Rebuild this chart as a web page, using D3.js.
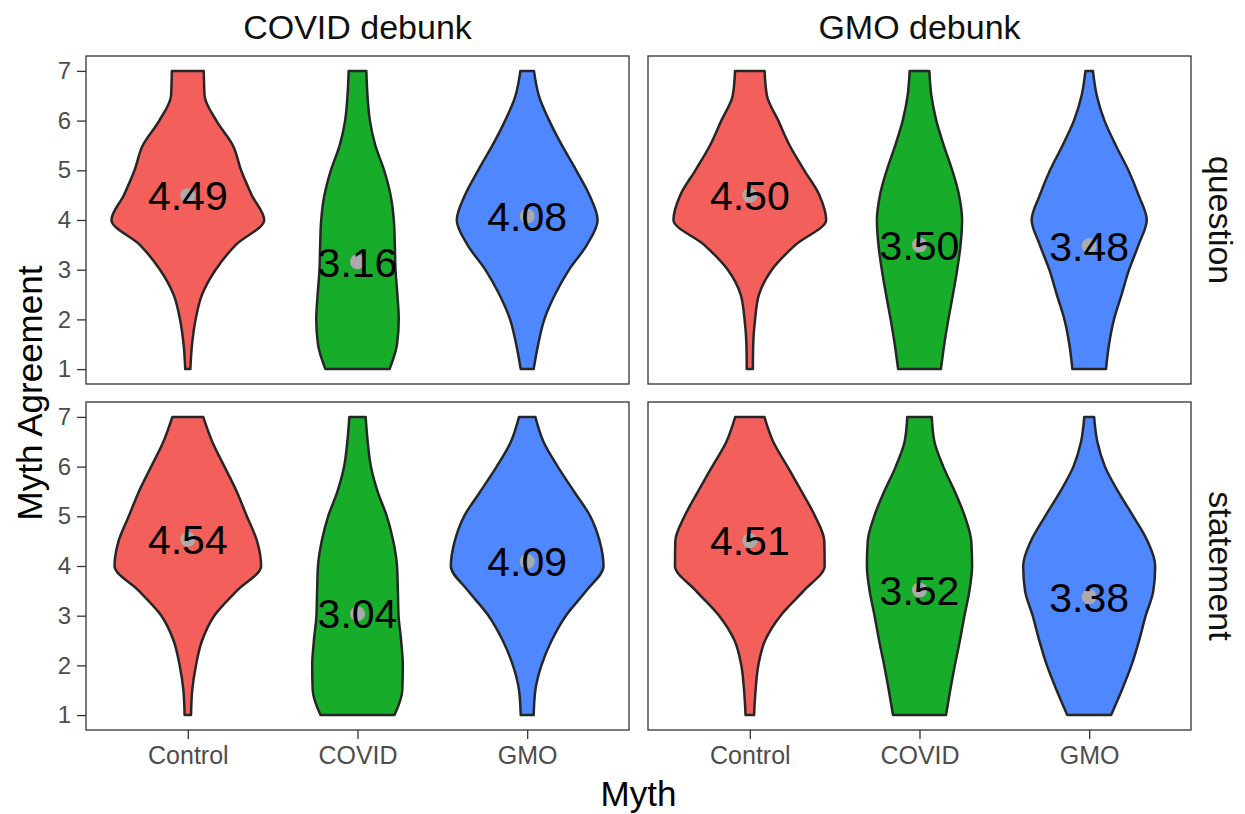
<!DOCTYPE html>
<html>
<head>
<meta charset="utf-8">
<script src="https://cdn.jsdelivr.net/npm/d3@7"></script>
<style>
  body { margin: 0; background: #fff; }
  text { font-family: "Liberation Sans", Arial, Helvetica, sans-serif; }
</style>
</head>
<body>
<svg id="chart" width="1245" height="814"></svg>
<script>
const myths = ['Control', 'COVID', 'GMO'];
const debunks = ['COVID debunk', 'GMO debunk'];
const formats = ['question', 'statement'];
const colors = ['#F35F5B', '#17AD2B', '#4F87FE'];

// y levels the violin half-widths were read at
const yLevels = [1, 1.5, 2, 2.5, 3, 3.5, 4, 4.5, 5, 5.5, 6, 6.5, 7];

// mean agreement per myth (Control, COVID, GMO)
const meanCovidQuestion = [4.49, 3.16, 4.08];
const meanGmoQuestion = [4.50, 3.50, 3.48];
const meanCovidStatement = [4.54, 3.04, 4.09];
const meanGmoStatement = [4.51, 3.52, 3.38];

// violin half-widths (in category units) at yLevels
const widthCovidQuestion = [
  [0.015, 0.025, 0.046, 0.084, 0.164, 0.283, 0.450, 0.377, 0.314, 0.266, 0.168, 0.099, 0.094],
  [0.189, 0.233, 0.243, 0.235, 0.224, 0.220, 0.214, 0.195, 0.157, 0.105, 0.073, 0.059, 0.052],
  [0.038, 0.065, 0.101, 0.164, 0.247, 0.352, 0.415, 0.367, 0.289, 0.205, 0.130, 0.069, 0.040]
];
const widthGmoQuestion = [
  [0.018, 0.020, 0.031, 0.054, 0.130, 0.269, 0.450, 0.410, 0.321, 0.235, 0.168, 0.101, 0.087],
  [0.126, 0.146, 0.170, 0.197, 0.222, 0.242, 0.251, 0.233, 0.193, 0.143, 0.099, 0.070, 0.058],
  [0.099, 0.117, 0.146, 0.191, 0.235, 0.291, 0.339, 0.291, 0.231, 0.157, 0.090, 0.045, 0.022]
];
const widthCovidStatement = [
  [0.019, 0.026, 0.048, 0.084, 0.156, 0.288, 0.432, 0.408, 0.348, 0.288, 0.216, 0.144, 0.091],
  [0.218, 0.264, 0.267, 0.257, 0.242, 0.238, 0.233, 0.211, 0.173, 0.118, 0.079, 0.060, 0.048],
  [0.038, 0.048, 0.084, 0.144, 0.228, 0.348, 0.450, 0.427, 0.372, 0.276, 0.180, 0.096, 0.048]
];
const widthGmoStatement = [
  [0.025, 0.034, 0.050, 0.090, 0.181, 0.317, 0.441, 0.439, 0.385, 0.305, 0.222, 0.138, 0.086],
  [0.156, 0.181, 0.208, 0.238, 0.265, 0.294, 0.310, 0.305, 0.267, 0.208, 0.140, 0.088, 0.072],
  [0.129, 0.192, 0.249, 0.294, 0.333, 0.378, 0.389, 0.344, 0.260, 0.170, 0.093, 0.048, 0.029]
];
const yTicks = [1, 2, 3, 4, 5, 6, 7];

const panels = [
  { row: 0, col: 0, means: meanCovidQuestion, widths: widthCovidQuestion },
  { row: 0, col: 1, means: meanGmoQuestion, widths: widthGmoQuestion },
  { row: 1, col: 0, means: meanCovidStatement, widths: widthCovidStatement },
  { row: 1, col: 1, means: meanGmoStatement, widths: widthGmoStatement }
];

const colX = [86, 648], rowY = [56, 402];
const pw = 543, ph = 328;

const svg = d3.select('#chart');

panels.forEach(function(p) {
  const x0 = colX[p.col], y0 = rowY[p.row];
  const x = d3.scalePoint().domain(myths).range([x0, x0 + pw]).padding(0.6);
  const y = d3.scaleLinear().domain([0.7, 7.3]).range([y0 + ph, y0]);
  const step = x.step();

  const g = svg.append('g');

  myths.forEach(function(m, i) {
    const cx = x(m);
    const pts = yLevels.map(function(v, k) { return { v: v, w: p.widths[i][k] }; });
    const area = d3.area()
      .y(function(d) { return y(d.v); })
      .x0(function(d) { return cx - d.w * step; })
      .x1(function(d) { return cx + d.w * step; })
      .curve(d3.curveMonotoneY);
    g.append('path')
      .attr('d', area(pts))
      .attr('fill', colors[i])
      .attr('stroke', '#262626')
      .attr('stroke-width', 2.5)
      .attr('stroke-linejoin', 'round');
  });

  g.selectAll('circle.mean')
    .data(p.means)
    .enter().append('circle')
    .attr('cx', function(d, i) { return x(myths[i]); })
    .attr('cy', function(d) { return y(d); })
    .attr('r', 7.5)
    .attr('fill', '#ABABAB');

  g.selectAll('text.mean')
    .data(p.means)
    .enter().append('text')
    .attr('x', function(d, i) { return x(myths[i]); })
    .attr('y', function(d) { return y(d); })
    .attr('dy', '0.36em')
    .attr('text-anchor', 'middle')
    .style('font-size', '41px')
    .style('fill', '#000')
    .text(function(d) { return d3.format('.2f')(d); });

  g.append('rect')
    .attr('x', x0).attr('y', y0)
    .attr('width', pw).attr('height', ph)
    .attr('fill', 'none')
    .attr('stroke', '#333')
    .attr('stroke-width', 1.3);

  if (p.col === 0) {
    const ax = g.append('g')
      .attr('transform', 'translate(' + x0 + ',0)')
      .call(d3.axisLeft(y).tickValues(yTicks).tickFormat(d3.format('d')).tickSize(9).tickPadding(6));
    ax.select('.domain').remove();
    ax.selectAll('line').attr('stroke', '#333').attr('stroke-width', 1.3);
    ax.selectAll('text').style('font-size', '24px').style('fill', '#4d4d4d');
  }
  if (p.row === 1) {
    const bx = g.append('g')
      .attr('transform', 'translate(0,' + (y0 + ph) + ')')
      .call(d3.axisBottom(x).tickSize(9).tickPadding(7));
    bx.select('.domain').remove();
    bx.selectAll('line').attr('stroke', '#333').attr('stroke-width', 1.3);
    bx.selectAll('text').style('font-size', '25px').style('fill', '#4d4d4d');
  }
});

// strip labels
svg.selectAll('text.colstrip')
  .data(debunks)
  .enter().append('text')
  .attr('x', function(d, i) { return colX[i] + pw / 2; })
  .attr('y', 39)
  .attr('text-anchor', 'middle')
  .style('font-size', '34px')
  .style('fill', '#111')
  .text(function(d) { return d; });

svg.selectAll('text.rowstrip')
  .data(formats)
  .enter().append('text')
  .attr('transform', function(d, i) { return 'translate(1209,' + (rowY[i] + ph / 2) + ') rotate(90)'; })
  .attr('text-anchor', 'middle')
  .style('font-size', '34px')
  .style('fill', '#111')
  .text(function(d) { return d; });

// axis titles
svg.append('text')
  .attr('x', (colX[0] + colX[1] + pw) / 2)
  .attr('y', 806)
  .attr('text-anchor', 'middle')
  .style('font-size', '35px')
  .text('Myth');

svg.append('text')
  .attr('transform', 'translate(42,' + ((rowY[0] + rowY[1] + ph) / 2) + ') rotate(-90)')
  .attr('text-anchor', 'middle')
  .style('font-size', '35px')
  .text('Myth Agreement');
</script>
</body>
</html>
